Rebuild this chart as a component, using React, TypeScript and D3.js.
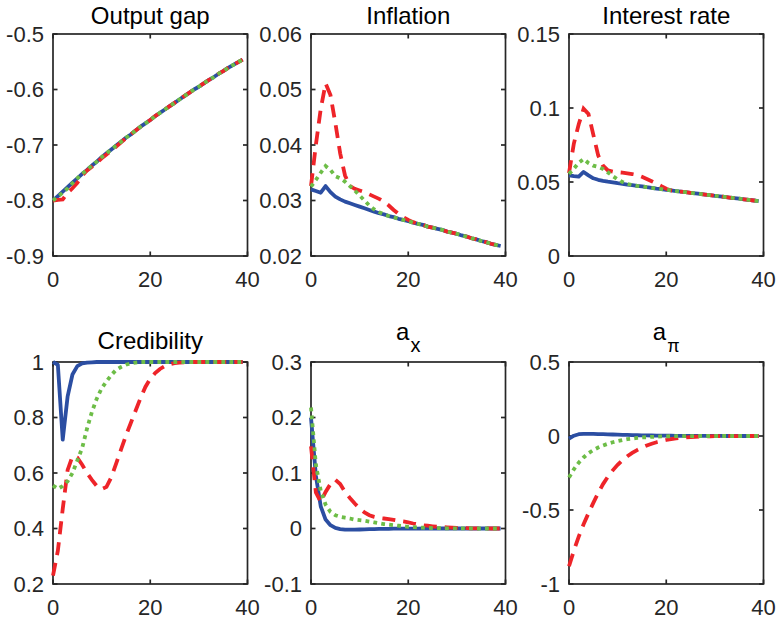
import React, { useEffect, useRef } from "react";
import * as d3 from "d3";

// horizon (quarters)
const periods = d3.range(0, 40);
const xTicks = [0, 20, 40];

// Output gap
const outputGapTicks = [-0.9, -0.8, -0.7, -0.6, -0.5];
const outputGapLabels = ["-0.9", "-0.8", "-0.7", "-0.6", "-0.5"];
const outputGapBlue = [-0.800, -0.792, -0.784, -0.776, -0.768, -0.760, -0.752, -0.745, -0.737, -0.730, -0.722, -0.715, -0.708, -0.701, -0.694, -0.687, -0.681, -0.674, -0.667, -0.661, -0.655, -0.648, -0.642, -0.636, -0.630, -0.624, -0.618, -0.612, -0.606, -0.600, -0.595, -0.589, -0.583, -0.578, -0.572, -0.567, -0.561, -0.556, -0.551, -0.546];
const outputGapRed = [-0.800, -0.799, -0.798, -0.786, -0.778, -0.768, -0.755, -0.746, -0.739, -0.732, -0.724, -0.717, -0.710, -0.703, -0.695, -0.688, -0.681, -0.674, -0.667, -0.661, -0.655, -0.648, -0.642, -0.636, -0.630, -0.624, -0.618, -0.612, -0.606, -0.600, -0.595, -0.589, -0.583, -0.578, -0.572, -0.567, -0.561, -0.556, -0.551, -0.546];
const outputGapGreen = [-0.800, -0.793, -0.786, -0.778, -0.769, -0.760, -0.752, -0.745, -0.737, -0.730, -0.722, -0.715, -0.708, -0.701, -0.694, -0.687, -0.681, -0.674, -0.667, -0.661, -0.655, -0.648, -0.642, -0.636, -0.630, -0.624, -0.618, -0.612, -0.606, -0.600, -0.595, -0.589, -0.583, -0.578, -0.572, -0.567, -0.561, -0.556, -0.551, -0.546];

// Inflation
const inflationTicks = [0.02, 0.03, 0.04, 0.05, 0.06];
const inflationLabels = ["0.02", "0.03", "0.04", "0.05", "0.06"];
const inflationBlue = [0.0320, 0.0317, 0.0314, 0.0326, 0.0315, 0.0307, 0.0302, 0.0298, 0.0295, 0.0292, 0.0289, 0.0286, 0.0283, 0.0280, 0.0277, 0.0275, 0.0272, 0.0270, 0.0267, 0.0265, 0.0263, 0.0260, 0.0258, 0.0256, 0.0253, 0.0251, 0.0249, 0.0247, 0.0244, 0.0242, 0.0240, 0.0237, 0.0235, 0.0232, 0.0230, 0.0227, 0.0225, 0.0222, 0.0220, 0.0218];
const inflationRed = [0.0326, 0.0400, 0.0465, 0.0511, 0.0490, 0.0440, 0.0385, 0.0345, 0.0326, 0.0321, 0.0318, 0.0315, 0.0311, 0.0307, 0.0303, 0.0298, 0.0291, 0.0283, 0.0276, 0.0270, 0.0265, 0.0261, 0.0258, 0.0256, 0.0253, 0.0251, 0.0249, 0.0247, 0.0244, 0.0242, 0.0240, 0.0237, 0.0235, 0.0232, 0.0230, 0.0227, 0.0225, 0.0222, 0.0220, 0.0218];
const inflationGreen = [0.0325, 0.0337, 0.0350, 0.0362, 0.0355, 0.0344, 0.0340, 0.0334, 0.0326, 0.0318, 0.0309, 0.0300, 0.0291, 0.0284, 0.0279, 0.0275, 0.0272, 0.0270, 0.0267, 0.0265, 0.0263, 0.0260, 0.0258, 0.0256, 0.0253, 0.0251, 0.0249, 0.0247, 0.0244, 0.0242, 0.0240, 0.0237, 0.0235, 0.0232, 0.0230, 0.0227, 0.0225, 0.0222, 0.0220, 0.0218];

// Interest rate
const rateTicks = [0, 0.05, 0.1, 0.15];
const rateLabels = ["0", "0.05", "0.1", "0.15"];
const rateBlue = [0.0545, 0.0540, 0.0537, 0.0568, 0.0545, 0.0525, 0.0515, 0.0508, 0.0502, 0.0497, 0.0492, 0.0488, 0.0483, 0.0479, 0.0474, 0.0470, 0.0465, 0.0461, 0.0456, 0.0452, 0.0447, 0.0443, 0.0439, 0.0435, 0.0431, 0.0427, 0.0423, 0.0419, 0.0415, 0.0411, 0.0407, 0.0403, 0.0399, 0.0395, 0.0391, 0.0387, 0.0383, 0.0379, 0.0375, 0.0371];
const rateRed = [0.0560, 0.0760, 0.0890, 0.0995, 0.0960, 0.0820, 0.0680, 0.0610, 0.0578, 0.0570, 0.0566, 0.0563, 0.0559, 0.0554, 0.0548, 0.0535, 0.0520, 0.0505, 0.0490, 0.0472, 0.0455, 0.0443, 0.0439, 0.0435, 0.0431, 0.0427, 0.0423, 0.0419, 0.0415, 0.0411, 0.0407, 0.0403, 0.0399, 0.0395, 0.0391, 0.0387, 0.0383, 0.0379, 0.0375, 0.0371];
const rateGreen = [0.0555, 0.0590, 0.0630, 0.0655, 0.0628, 0.0610, 0.0602, 0.0588, 0.0565, 0.0540, 0.0518, 0.0500, 0.0487, 0.0480, 0.0474, 0.0470, 0.0465, 0.0461, 0.0456, 0.0452, 0.0447, 0.0443, 0.0439, 0.0435, 0.0431, 0.0427, 0.0423, 0.0419, 0.0415, 0.0411, 0.0407, 0.0403, 0.0399, 0.0395, 0.0391, 0.0387, 0.0383, 0.0379, 0.0375, 0.0371];

// Credibility
const credTicks = [0.2, 0.4, 0.6, 0.8, 1];
const credLabels = ["0.2", "0.4", "0.6", "0.8", "1"];
const credBlue = [1, 0.99, 0.72, 0.875, 0.955, 0.985, 0.995, 0.998, 0.999, 1, 1, 1, 1, 1, 1, 1, 1, 1, 1, 1, 1, 1, 1, 1, 1, 1, 1, 1, 1, 1, 1, 1, 1, 1, 1, 1, 1, 1, 1, 1];
const credRed = [0.23, 0.32, 0.47, 0.61, 0.66, 0.655, 0.63, 0.60, 0.575, 0.553, 0.542, 0.55, 0.585, 0.635, 0.685, 0.735, 0.78, 0.825, 0.87, 0.91, 0.94, 0.96, 0.975, 0.985, 0.992, 0.996, 0.998, 0.999, 1, 1, 1, 1, 1, 1, 1, 1, 1, 1, 1, 1];
const credGreen = [0.555, 0.543, 0.553, 0.57, 0.60, 0.645, 0.69, 0.76, 0.82, 0.868, 0.905, 0.93, 0.953, 0.972, 0.982, 0.99, 0.995, 0.998, 1, 1, 1, 1, 1, 1, 1, 1, 1, 1, 1, 1, 1, 1, 1, 1, 1, 1, 1, 1, 1, 1];

// a_x
const axTicks = [-0.1, 0, 0.1, 0.2, 0.3];
const axLabels = ["-0.1", "0", "0.1", "0.2", "0.3"];
const axBlue = [0.200, 0.095, 0.040, 0.016, 0.006, 0.001, -0.001, -0.002, -0.002, -0.002, -0.0018, -0.0015, -0.0012, -0.001, -0.0008, -0.0006, -0.0005, -0.0004, -0.0003, -0.0002, -0.0002, -0.0001, -0.0001, 0, 0, 0, 0, 0, 0, 0, 0, 0, 0, 0, 0, 0, 0, 0, 0, 0];
const axRed = [0.148, 0.065, 0.048, 0.066, 0.080, 0.088, 0.080, 0.066, 0.055, 0.045, 0.036, 0.029, 0.024, 0.021, 0.019, 0.018, 0.017, 0.0155, 0.014, 0.0128, 0.011, 0.009, 0.0075, 0.006, 0.005, 0.004, 0.003, 0.0025, 0.002, 0.0015, 0.001, 0.0008, 0.0006, 0.0004, 0.0003, 0.0002, 0.0001, 0, 0, 0];
const axGreen = [0.218, 0.115, 0.068, 0.043, 0.030, 0.024, 0.021, 0.0195, 0.018, 0.016, 0.015, 0.014, 0.0125, 0.011, 0.0095, 0.008, 0.007, 0.006, 0.005, 0.004, 0.003, 0.0025, 0.002, 0.0015, 0.001, 0.0008, 0.0006, 0.0005, 0.0004, 0.0003, 0.0002, 0.0002, 0.0001, 0.0001, 0, 0, 0, 0, 0, 0];

// a_pi
const apiTicks = [-1, -0.5, 0, 0.5];
const apiLabels = ["-1", "-0.5", "0", "0.5"];
const apiBlue = [-0.018, 0.002, 0.012, 0.015, 0.015, 0.014, 0.013, 0.012, 0.011, 0.010, 0.009, 0.008, 0.007, 0.006, 0.005, 0.0045, 0.004, 0.0035, 0.003, 0.0025, 0.002, 0.0018, 0.0015, 0.0012, 0.001, 0.0008, 0.0006, 0.0005, 0.0004, 0.0003, 0.0002, 0.0002, 0.0001, 0.0001, 0, 0, 0, 0, 0, 0];
const apiRed = [-0.880, -0.775, -0.680, -0.597, -0.522, -0.452, -0.385, -0.325, -0.275, -0.232, -0.195, -0.163, -0.137, -0.114, -0.095, -0.078, -0.064, -0.052, -0.042, -0.034, -0.027, -0.021, -0.016, -0.012, -0.009, -0.007, -0.005, -0.004, -0.003, -0.002, -0.0015, -0.001, -0.0007, -0.0005, -0.0003, -0.0002, -0.0001, 0, 0, 0];
const apiGreen = [-0.280, -0.225, -0.180, -0.145, -0.116, -0.095, -0.078, -0.064, -0.052, -0.042, -0.034, -0.027, -0.021, -0.017, -0.013, -0.010, -0.008, -0.006, -0.0045, -0.003, -0.002, -0.0015, -0.001, -0.0007, -0.0005, -0.0003, -0.0002, -0.0001, 0, 0, 0, 0, 0, 0, 0, 0, 0, 0, 0, 0];

const panels = [
  { title: "Output gap", sub: "", ticks: outputGapTicks, labels: outputGapLabels, blue: outputGapBlue, red: outputGapRed, green: outputGapGreen },
  { title: "Inflation", sub: "", ticks: inflationTicks, labels: inflationLabels, blue: inflationBlue, red: inflationRed, green: inflationGreen },
  { title: "Interest rate", sub: "", ticks: rateTicks, labels: rateLabels, blue: rateBlue, red: rateRed, green: rateGreen },
  { title: "Credibility", sub: "", ticks: credTicks, labels: credLabels, blue: credBlue, red: credRed, green: credGreen },
  { title: "a", sub: "x", ticks: axTicks, labels: axLabels, blue: axBlue, red: axRed, green: axGreen },
  { title: "a", sub: "\u03c0", ticks: apiTicks, labels: apiLabels, blue: apiBlue, red: apiRed, green: apiGreen },
];

const colLeft = [53, 311, 569];
const rowTop = [34, 362];
const plotW = 194.5;
const plotH = 222;
const ink = "#262626";
const font = "'Liberation Sans', Arial, Helvetica, sans-serif";

export default function App() {
  const ref = useRef<SVGSVGElement>(null);

  useEffect(() => {
    drawChart();
  }, []);

  function drawChart() {
    const svg = d3.select(ref.current);
    svg.selectAll("*").remove();

    panels.forEach((p, i) => {
      const left = colLeft[i % 3];
      const top = rowTop[Math.floor(i / 3)];
      const x = d3.scaleLinear().domain([0, 40]).range([left, left + plotW]);
      const y = d3
        .scaleLinear()
        .domain([p.ticks[0], p.ticks[p.ticks.length - 1]])
        .range([top + plotH, top]);
      const g = svg.append("g");

      // box + inward ticks on all four sides
      g.append("rect")
        .attr("x", left)
        .attr("y", top)
        .attr("width", plotW)
        .attr("height", plotH)
        .attr("fill", "none")
        .attr("stroke", ink)
        .attr("stroke-width", 1.7);

      xTicks.forEach((t) => {
        g.append("line").attr("x1", x(t)).attr("x2", x(t)).attr("y1", top + plotH).attr("y2", top + plotH - 4.5).attr("stroke", ink).attr("stroke-width", 1.7);
        g.append("line").attr("x1", x(t)).attr("x2", x(t)).attr("y1", top).attr("y2", top + 4.5).attr("stroke", ink).attr("stroke-width", 1.7);
        g.append("text")
          .attr("x", x(t))
          .attr("y", top + plotH + 31)
          .attr("text-anchor", "middle")
          .style("font-family", font)
          .style("font-size", "22px")
          .attr("fill", ink)
          .text(String(t));
      });

      p.ticks.forEach((t, k) => {
        g.append("line").attr("x1", left).attr("x2", left + 4.5).attr("y1", y(t)).attr("y2", y(t)).attr("stroke", ink).attr("stroke-width", 1.7);
        g.append("line").attr("x1", left + plotW).attr("x2", left + plotW - 4.5).attr("y1", y(t)).attr("y2", y(t)).attr("stroke", ink).attr("stroke-width", 1.7);
        g.append("text")
          .attr("x", left - 9)
          .attr("y", y(t))
          .attr("dy", "0.36em")
          .attr("text-anchor", "end")
          .style("font-family", font)
          .style("font-size", "22px")
          .attr("fill", ink)
          .text(p.labels[k]);
      });

      // title
      const title = g
        .append("text")
        .attr("x", left + plotW / 2)
        .attr("y", p.sub ? top - 22 : i < 3 ? top - 10 : top - 13)
        .attr("text-anchor", "middle")
        .style("font-family", font)
        .style("font-size", "24px")
        .attr("fill", "#000");
      title.append("tspan").text(p.title);
      if (p.sub) {
        title
          .append("tspan")
          .attr("dy", 11.5)
          .attr("dx", 1)
          .style("font-size", p.sub === "x" ? "20px" : "18px")
          .text(p.sub);
      }

      const line = d3
        .line<number>()
        .x((_, k) => x(periods[k]))
        .y((d) => y(d));

      // blue solid, red dashed, green dotted
      g.append("path")
        .attr("d", line(p.blue))
        .attr("fill", "none")
        .attr("stroke", "#2b4ea2")
        .attr("stroke-width", 3.8)
        .attr("stroke-linejoin", "round");
      g.append("path")
        .attr("d", line(p.red))
        .attr("fill", "none")
        .attr("stroke", "#ee2429")
        .attr("stroke-width", 3.8)
        .attr("stroke-dasharray", "13,8");
      g.append("path")
        .attr("d", line(p.green))
        .attr("fill", "none")
        .attr("stroke", "#6dbd47")
        .attr("stroke-width", 3.8)
        .attr("stroke-dasharray", "3.8,4.2");
    });
  }

  return (
    <svg
      ref={ref}
      width={779}
      height={621}
      style={{ position: "absolute", left: 0, top: 0, background: "#fff" }}
    />
  );
}
